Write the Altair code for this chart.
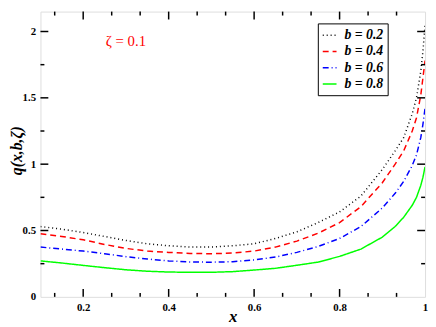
import altair as alt
import pandas as pd

x_vals = [0.1, 0.15, 0.2, 0.25, 0.3, 0.35, 0.4, 0.45, 0.5, 0.55, 0.6, 0.65, 0.7, 0.75,
          0.8, 0.85, 0.9, 0.93, 0.95, 0.97, 0.98, 0.99, 0.995, 1.0]
q_b02 = [0.53, 0.51, 0.485, 0.455, 0.425, 0.40, 0.385, 0.375, 0.375, 0.385, 0.40, 0.44,
         0.49, 0.56, 0.64, 0.76, 0.96, 1.1, 1.2, 1.38, 1.5, 1.7, 1.85, 2.05]
q_b04 = [0.475, 0.455, 0.43, 0.395, 0.365, 0.345, 0.335, 0.327, 0.325, 0.33, 0.345, 0.375,
         0.42, 0.48, 0.56, 0.68, 0.86, 1.0, 1.1, 1.25, 1.35, 1.52, 1.65, 1.78]
q_b06 = [0.375, 0.36, 0.345, 0.325, 0.303, 0.285, 0.271, 0.263, 0.261, 0.265, 0.278, 0.30,
         0.335, 0.38, 0.44, 0.53, 0.67, 0.78, 0.87, 0.99, 1.07, 1.2, 1.3, 1.42]
q_b08 = [0.271, 0.255, 0.237, 0.22, 0.204, 0.193, 0.187, 0.185, 0.185, 0.19, 0.202, 0.215,
         0.238, 0.262, 0.305, 0.36, 0.45, 0.53, 0.6, 0.69, 0.75, 0.84, 0.9, 0.98]

series_names = ["b = 0.2", "b = 0.4", "b = 0.6", "b = 0.8"]
series_colors = ["#000000", "#ff0000", "#0000ff", "#00ff00"]
series_dash = [[1, 3], [6, 4], [6, 3, 1, 3], [1, 0]]

x_major = [0.2, 0.4, 0.6, 0.8]
x_minor = [0.1333, 0.2667, 0.3333, 0.4667, 0.5333, 0.6667, 0.7333, 0.8667, 0.9333]
y_major = [0.5, 1.0, 1.5, 2.0]
y_minor = [0.25, 0.75, 1.25, 1.75]
x_labels = [0.2, 0.4, 0.6, 0.8, 1.0]
y_labels = [0, 0.5, 1.0, 1.5, 2.0]

annot_text = ["ζ = 0.1"]
annot_x = [0.3]
annot_y = [1.93]

W, H = 391, 290
FONT = "Liberation Serif"

rows = []
for name, vals in zip(series_names, [q_b02, q_b04, q_b06, q_b08]):
    for xv, yv in zip(x_vals, vals):
        rows.append({"x": xv, "q": yv, "series": name})
df = pd.DataFrame(rows)

xscale = alt.Scale(domain=[0.1, 1.0], nice=False, zero=False)
yscale = alt.Scale(domain=[0, 2.15], nice=False, zero=False)

lines = alt.Chart(df).mark_line(strokeWidth=1.5, clip=True).encode(
    x=alt.X("x:Q", scale=xscale,
            axis=alt.Axis(title="x", values=x_labels, format="~g", ticks=False, tickSize=0,
                          domain=False, grid=False, labelFlush=False, labelPadding=5,
                          labelFont=FONT, labelFontSize=11, labelFontWeight="bold",
                          labelColor="black", titleFont=FONT, titleFontSize=17,
                          titleFontWeight="bold", titleFontStyle="italic",
                          titleColor="black", titleBaseline="alphabetic", titleY=25)),
    y=alt.Y("q:Q", scale=yscale,
            axis=alt.Axis(title="q(x,b,ζ)", values=y_labels, format="~g", ticks=False,
                          tickSize=0, domain=False, grid=False, labelFlush=False,
                          labelPadding=5, labelFont=FONT, labelFontSize=11,
                          labelFontWeight="bold", labelColor="black", titleFont=FONT,
                          titleFontSize=16, titleFontWeight="bold", titleFontStyle="italic",
                          titleColor="black", titleBaseline="middle", titleX=-24,
                          titleY=141)),
    color=alt.Color("series:N", scale=alt.Scale(domain=series_names, range=series_colors),
                    legend=alt.Legend(title=None, orient="none", legendX=282, legendY=12,
                                      strokeColor="black", fillColor="white", padding=4,
                                      symbolType="stroke", symbolSize=196,
                                      symbolStrokeWidth=1.5, labelFont=FONT,
                                      labelFontSize=14, labelFontWeight="bold",
                                      labelFontStyle="italic", labelColor="black",
                                      labelOffset=7, rowPadding=1.5)),
    strokeDash=alt.StrokeDash("series:N",
                              scale=alt.Scale(domain=series_names, range=series_dash),
                              legend=None),
)


def tick_layer(vals, orient, length):
    d = pd.DataFrame({"v": vals})
    base = alt.Chart(d).mark_rule(color="black", strokeWidth=1.5)
    if orient == "bottom":
        return base.encode(x=alt.X("v:Q", scale=xscale), y=alt.value(H), y2=alt.value(H - length))
    if orient == "top":
        return base.encode(x=alt.X("v:Q", scale=xscale), y=alt.value(0), y2=alt.value(length))
    if orient == "left":
        return base.encode(y=alt.Y("v:Q", scale=yscale), x=alt.value(0), x2=alt.value(length))
    return base.encode(y=alt.Y("v:Q", scale=yscale), x=alt.value(W), x2=alt.value(W - length))


ticks = []
for o in ["bottom", "top"]:
    ticks.append(tick_layer(x_major, o, 8))
    ticks.append(tick_layer(x_minor, o, 4))
for o in ["left", "right"]:
    ticks.append(tick_layer(y_major, o, 8))
    ticks.append(tick_layer(y_minor, o, 4))

annot = alt.Chart(pd.DataFrame({"t": annot_text, "x": annot_x, "y": annot_y})).mark_text(
    font=FONT, fontSize=15, color="#ff0000", align="center", baseline="middle"
).encode(x=alt.X("x:Q", scale=xscale), y=alt.Y("y:Q", scale=yscale), text="t:N")

chart = alt.layer(lines, annot, *ticks).properties(
    width=W, height=H,
    autosize=alt.AutoSizeParams(type="none"),
    padding={"left": 33, "top": 1, "right": 3, "bottom": 28},
).configure_view(stroke="black", strokeWidth=2).configure(background="white")

chart.save("out.html", embed_options={"renderer": "svg", "actions": False})
